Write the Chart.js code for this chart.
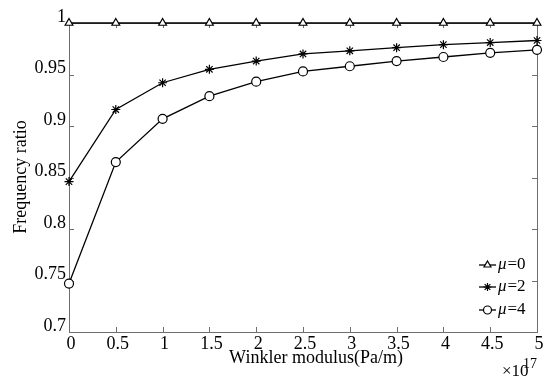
<!DOCTYPE html>
<html>
<head>
<meta charset="utf-8">
<script src="https://cdn.jsdelivr.net/npm/chart.js@4/dist/chart.umd.min.js"></script>
<style>
  html, body { margin: 0; padding: 0; background: #fff; }
  #wrap { width: 546px; height: 383px; position: relative; }
</style>
</head>
<body>
<div id="wrap"><canvas id="chart"></canvas></div>
<script>
// Winkler modulus (x10^17 Pa/m)
const winkler = [0, 0.5, 1, 1.5, 2, 2.5, 3, 3.5, 4, 4.5, 5];
// frequency ratio per mu
const mu0 = [1, 1, 1, 1, 1, 1, 1, 1, 1, 1, 1];
const mu2 = [0.846, 0.916, 0.942, 0.955, 0.963, 0.970, 0.973, 0.976, 0.979, 0.981, 0.983];
const mu4 = [0.747, 0.865, 0.907, 0.929, 0.943, 0.953, 0.958, 0.963, 0.967, 0.971, 0.974];
const seriesNames = ['0', '2', '4'];

const xTicks = [0, 0.5, 1, 1.5, 2, 2.5, 3, 3.5, 4, 4.5, 5];
const yTicks = [0.7, 0.75, 0.8, 0.85, 0.9, 0.95, 1];

const FONT = '"Liberation Serif", "DejaVu Serif", serif';
const AXIS = '#6e6e6e';

const pts = ys => winkler.map((x, i) => ({ x: x, y: ys[i] }));
const fmt = v => String(Number(v.toFixed(2)));

const mkSet = (label, ys, style) => ({
    label: label,
    data: pts(ys),
    borderColor: '#000',
    borderWidth: 1.3,
    pointStyle: style,
    pointRadius: 4.5,
    pointBorderWidth: 1.2,
    pointBackgroundColor: '#fff',
    pointBorderColor: '#000',
    fill: false,
    tension: 0,
    clip: false
});

// box, inward ticks, tick labels, titles, legend
const decor = {
    id: 'decor',
    beforeDatasetsDraw(chart) {
        const ctx = chart.ctx;
        const a = chart.chartArea;
        const xs = chart.scales.x, ys = chart.scales.y;
        ctx.save();
        ctx.strokeStyle = AXIS;
        ctx.lineWidth = 1;
        ctx.strokeRect(a.left + 0.5, a.top + 0.5, a.right - a.left, a.bottom - a.top);
        ctx.beginPath();
        xTicks.forEach(v => {
            const px = Math.round(xs.getPixelForValue(v)) + 0.5;
            ctx.moveTo(px, a.bottom); ctx.lineTo(px, a.bottom - 5);
            ctx.moveTo(px, a.top); ctx.lineTo(px, a.top + 5);
        });
        yTicks.forEach(v => {
            const py = Math.round(ys.getPixelForValue(v)) + 0.5;
            ctx.moveTo(a.left, py); ctx.lineTo(a.left + 5, py);
            ctx.moveTo(a.right, py); ctx.lineTo(a.right - 5, py);
        });
        ctx.stroke();

        // tick labels
        ctx.fillStyle = '#000';
        ctx.font = '18px ' + FONT;
        ctx.textBaseline = 'middle';
        ctx.textAlign = 'center';
        xTicks.forEach(v => {
            ctx.fillText(fmt(v), xs.getPixelForValue(v) + 2, a.bottom + 12);
        });
        ctx.textAlign = 'right';
        yTicks.forEach(v => {
            ctx.fillText(fmt(v), a.left - 3, ys.getPixelForValue(v) - 6);
        });
        ctx.restore();
    },
    afterDraw(chart) {
        const ctx = chart.ctx;
        ctx.save();
        ctx.fillStyle = '#000';
        ctx.textBaseline = 'middle';

        // y title
        ctx.save();
        ctx.translate(21, 177);
        ctx.rotate(-Math.PI / 2);
        ctx.textAlign = 'center';
        ctx.font = '18px ' + FONT;
        ctx.fillText('Frequency ratio', 0, 0);
        ctx.restore();

        // x title
        ctx.textAlign = 'center';
        ctx.font = '18px ' + FONT;
        ctx.fillText('Winkler modulus(Pa/m)', 316, 358);

        // exponent
        ctx.textAlign = 'left';
        ctx.font = '17px ' + FONT;
        ctx.fillText('\u00d710', 502, 372);
        ctx.font = '14px ' + FONT;
        ctx.fillText('17', 523, 364);

        // legend
        const rows = [265, 287, 310];
        chart.data.datasets.forEach((ds, i) => {
            const y = rows[i];
            ctx.strokeStyle = '#000';
            ctx.lineWidth = 1.3;
            ctx.beginPath();
            ctx.moveTo(479, y); ctx.lineTo(496, y);
            ctx.stroke();
            ctx.fillStyle = '#fff';
            ctx.lineWidth = 1.2;
            Chart.helpers.drawPoint(ctx, {
                pointStyle: ds.pointStyle, radius: 4, borderWidth: 1.2
            }, 487.5, y);
            ctx.fillStyle = '#000';
            ctx.font = 'italic 17px ' + FONT;
            ctx.fillText('\u03bc', 498, y);
            const w = ctx.measureText('\u03bc').width;
            ctx.font = '17px ' + FONT;
            ctx.fillText('=' + seriesNames[i], 498 + w + 1, y);
        });
        ctx.restore();
    }
};

new Chart(document.getElementById('chart'), {
    type: 'line',
    data: {
        datasets: [
            mkSet('\u03bc=0', mu0, 'triangle'),
            mkSet('\u03bc=2', mu2, 'star'),
            mkSet('\u03bc=4', mu4, 'circle')
        ]
    },
    options: {
        responsive: true,
        maintainAspectRatio: false,
        animation: false,
        layout: { padding: { top: 23, right: 9, left: 0, bottom: 0 } },
        plugins: { legend: { display: false }, tooltip: { enabled: false } },
        scales: {
            x: {
                type: 'linear',
                min: 0, max: 5,
                afterFit: s => { s.height = 51; },
                afterBuildTicks: s => { s.ticks = xTicks.map(v => ({ value: v })); },
                grid: { display: false, drawTicks: false },
                border: { display: false },
                ticks: { display: false }
            },
            y: {
                min: 0.7, max: 1,
                afterFit: s => { s.width = 69; },
                afterBuildTicks: s => { s.ticks = yTicks.map(v => ({ value: v })); },
                grid: { display: false, drawTicks: false },
                border: { display: false },
                ticks: { display: false }
            }
        }
    },
    plugins: [decor]
});
</script>
</body>
</html>
